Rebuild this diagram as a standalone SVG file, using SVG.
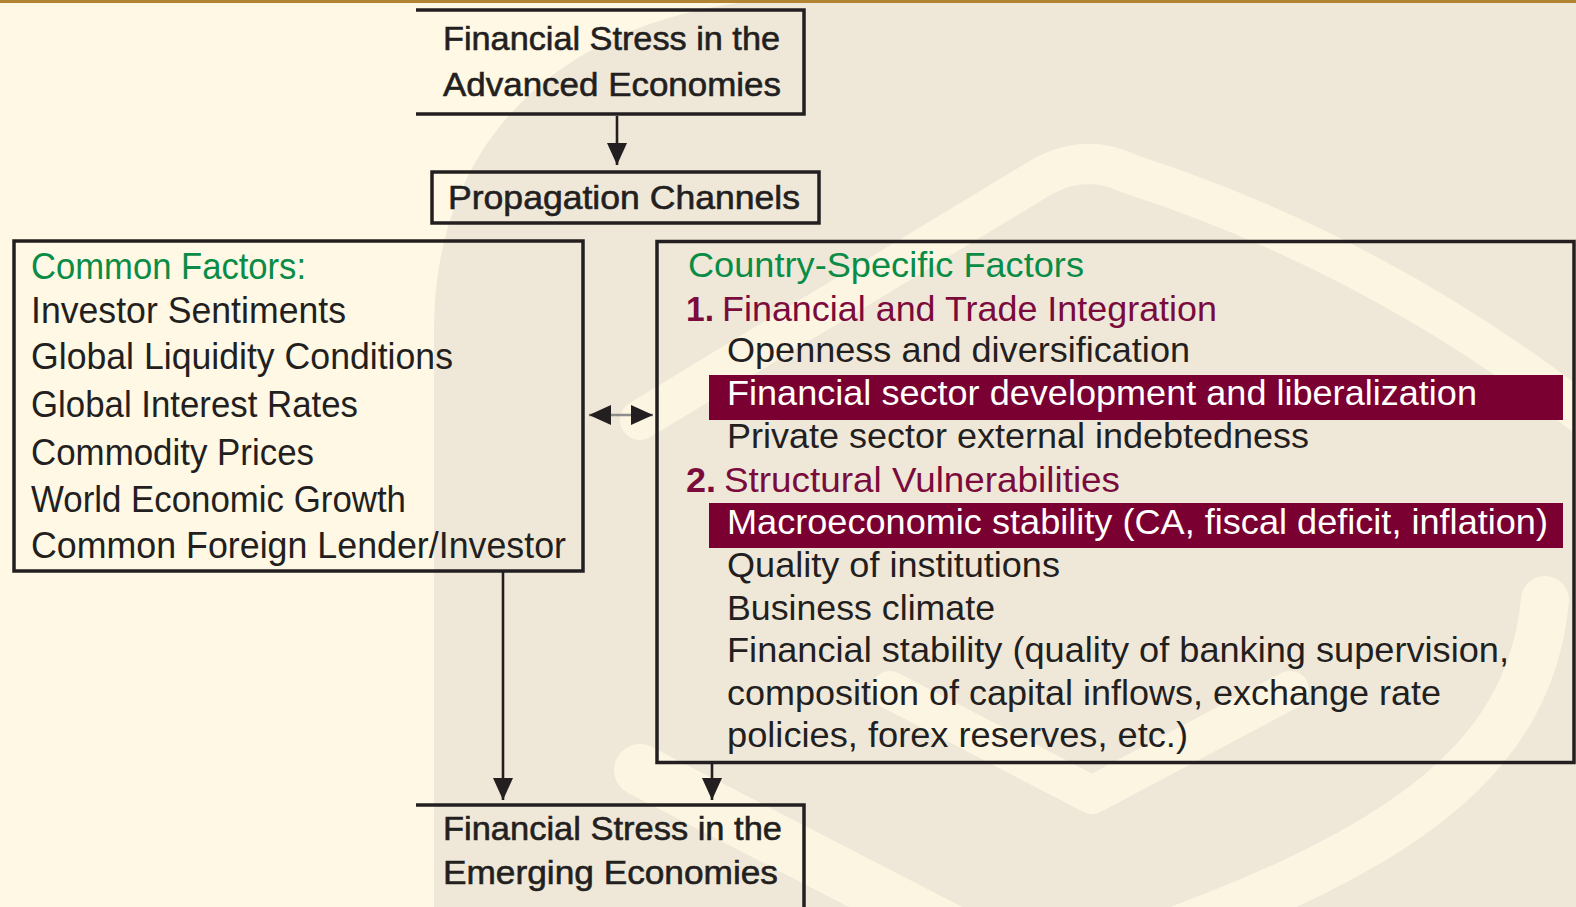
<svg xmlns="http://www.w3.org/2000/svg" width="1576" height="907" viewBox="0 0 1576 907">
<style>
.t{font-family:"Liberation Sans",Arial,sans-serif;fill:#231F20}
.title{font-size:34px;stroke:#231F20;stroke-width:0.6}
.lf{font-size:37px}
.rf{font-size:35px}
.green{fill:#0A8C46}
.maroon{fill:#7A0B3C}
.white{fill:#FFFFFF}
.box{fill:none;stroke:#231F20;stroke-width:3.5}
.bar{fill:#7B0032}
.wm{fill:none;stroke:#FCF5E1;stroke-linecap:round;stroke-linejoin:round}
</style>
<defs>
<marker id="ah" viewBox="0 0 22 20" markerWidth="22" markerHeight="20" refX="22" refY="10" orient="auto" markerUnits="userSpaceOnUse">
<path d="M0,0 L22,10 L0,20 Z" fill="#231F20"/>
</marker>
<marker id="ah2" viewBox="0 0 22 22" markerWidth="22" markerHeight="22" refX="22" refY="11" orient="auto-start-reverse" markerUnits="userSpaceOnUse">
<path d="M0,1 L22,11 L0,21 Z" fill="#231F20"/>
</marker>
</defs>

<g id="background">
<rect x="0" y="0" width="1576" height="907" fill="#FEF8E4"/>
<path d="M434,907 V330 C434,140 560,15 780,-2 H1576 V907 Z" fill="#EFE8D9"/>
<path class="wm" stroke-width="40" d="M640,420 L1040,178 Q1085,152 1130,174 Q1380,255 1590,420"/>
<path class="wm" stroke-width="48" d="M1545,600 C1530,760 1400,850 1150,940"/>
<path class="wm" stroke-width="52" d="M640,770 L960,935"/>
<path class="wm" stroke-width="38" d="M890,690 L1092,795 L1290,690"/>
<rect x="0" y="0" width="1576" height="3" fill="#B08433"/>
</g>

<g id="connectors" fill="none">
<path d="M617,116 V165" stroke="#231F20" stroke-width="2.6" marker-end="url(#ah)"/>
<path d="M503,572 V800" stroke="#231F20" stroke-width="2.6" marker-end="url(#ah)"/>
<path d="M712,763 V800" stroke="#231F20" stroke-width="2.6" marker-end="url(#ah)"/>
<path d="M589,415 H653" stroke="#8C8C8C" stroke-width="2.5" marker-start="url(#ah2)" marker-end="url(#ah2)"/>
</g>

<g id="node-advanced">
<path class="box" d="M416,10 H804 V114 H416"/>
<text class="t title" x="443" y="50" textLength="337" lengthAdjust="spacingAndGlyphs">Financial Stress in the</text>
<text class="t title" x="443" y="96" textLength="338" lengthAdjust="spacingAndGlyphs">Advanced Economies</text>
</g>

<g id="node-propagation">
<rect class="box" x="432" y="172" width="387" height="51"/>
<text class="t title" x="448" y="209" textLength="352" lengthAdjust="spacingAndGlyphs">Propagation Channels</text>
</g>

<g id="node-common">
<rect class="box" x="14" y="241" width="569" height="330"/>
<text class="t lf green" x="31" y="279" textLength="275" lengthAdjust="spacingAndGlyphs">Common Factors:</text>
<text class="t lf" x="31" y="323" textLength="315" lengthAdjust="spacingAndGlyphs">Investor Sentiments</text>
<text class="t lf" x="31" y="369" textLength="422" lengthAdjust="spacingAndGlyphs">Global Liquidity Conditions</text>
<text class="t lf" x="31" y="417" textLength="327" lengthAdjust="spacingAndGlyphs">Global Interest Rates</text>
<text class="t lf" x="31" y="465" textLength="283" lengthAdjust="spacingAndGlyphs">Commodity Prices</text>
<text class="t lf" x="31" y="512" textLength="375" lengthAdjust="spacingAndGlyphs">World Economic Growth</text>
<text class="t lf" x="31" y="558" textLength="535" lengthAdjust="spacingAndGlyphs">Common Foreign Lender/Investor</text>
</g>

<g id="node-country">
<rect class="box" x="657" y="241.5" width="917" height="521"/>
<text class="t rf green" x="688" y="277" textLength="396" lengthAdjust="spacingAndGlyphs">Country-Specific Factors</text>
<text class="t rf maroon" x="686" y="321" font-weight="bold" textLength="28" lengthAdjust="spacingAndGlyphs">1.</text>
<text class="t rf maroon" x="722" y="321" textLength="495" lengthAdjust="spacingAndGlyphs">Financial and Trade Integration</text>
<text class="t rf" x="727" y="362" textLength="463" lengthAdjust="spacingAndGlyphs">Openness and diversification</text>
<rect class="bar" x="709" y="375" width="854" height="45"/>
<text class="t rf white" x="727" y="405" textLength="750" lengthAdjust="spacingAndGlyphs">Financial sector development and liberalization</text>
<text class="t rf" x="727" y="448" textLength="582" lengthAdjust="spacingAndGlyphs">Private sector external indebtedness</text>
<text class="t rf maroon" x="686" y="492" font-weight="bold" textLength="30" lengthAdjust="spacingAndGlyphs">2.</text>
<text class="t rf maroon" x="724" y="492" textLength="396" lengthAdjust="spacingAndGlyphs">Structural Vulnerabilities</text>
<rect class="bar" x="709" y="503" width="854" height="45"/>
<text class="t rf white" x="727" y="534" textLength="821" lengthAdjust="spacingAndGlyphs">Macroeconomic stability (CA, fiscal deficit, inflation)</text>
<text class="t rf" x="727" y="577" textLength="333" lengthAdjust="spacingAndGlyphs">Quality of institutions</text>
<text class="t rf" x="727" y="620" textLength="268" lengthAdjust="spacingAndGlyphs">Business climate</text>
<text class="t rf" x="727" y="662" textLength="782" lengthAdjust="spacingAndGlyphs">Financial stability (quality of banking supervision,</text>
<text class="t rf" x="727" y="705" textLength="714" lengthAdjust="spacingAndGlyphs">composition of capital inflows, exchange rate</text>
<text class="t rf" x="727" y="747" textLength="461" lengthAdjust="spacingAndGlyphs">policies, forex reserves, etc.)</text>
</g>

<g id="node-emerging">
<path class="box" d="M416,805 H804 V910"/>
<text class="t title" x="443" y="840" textLength="339" lengthAdjust="spacingAndGlyphs">Financial Stress in the</text>
<text class="t title" x="443" y="884" textLength="335" lengthAdjust="spacingAndGlyphs">Emerging Economies</text>
</g>
</svg>
